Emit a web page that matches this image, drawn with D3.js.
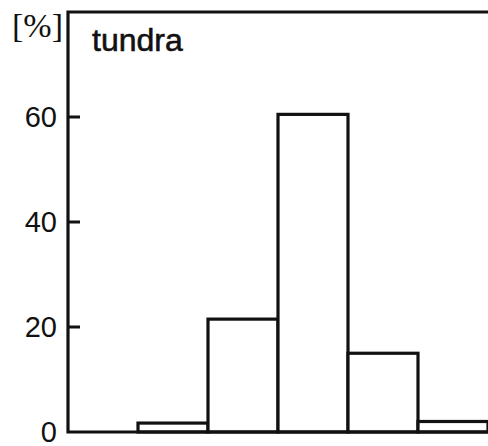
<!DOCTYPE html>
<html><head><meta charset="utf-8">
<script src="https://cdn.jsdelivr.net/npm/d3@7"></script>
<style>html,body{margin:0;padding:0;background:#fff;}svg{display:block;}</style>
</head><body>
<svg id="c" width="488" height="446"></svg>
<script>
const categories = ["b1","b2","b3","b4","b5","b6"];
const values = [0, 1.7, 21.5, 60.5, 15, 2];
const yTicks = [0, 20, 40, 60];
const title = "tundra";
const unitLabel = "[%]";

const svg = d3.select("#c");
const mLeft = 68, mRight = 488, mTop = 12, mBottom = 432;
const x = d3.scaleBand().domain(categories).range([mLeft, mRight]).padding(0);
const y = d3.scaleLinear().domain([0, 60]).range([mBottom, 117]);

const ink = "#111";

// bars
svg.append("g").selectAll("rect").data(values.map((v,i)=>({c:categories[i],v})).filter(d=>d.v>0))
  .join("rect")
  .attr("x", d => x(d.c))
  .attr("width", x.bandwidth())
  .attr("y", d => y(d.v))
  .attr("height", d => y(0) - y(d.v))
  .attr("fill", "#fff")
  .attr("stroke", ink)
  .attr("stroke-width", 3.2);

// frame: left axis, top, baseline
svg.append("path")
  .attr("d", `M${mRight},${mTop} H${mLeft} V${mBottom} H${mRight}`)
  .attr("fill", "none").attr("stroke", ink).attr("stroke-width", 3.2);

// inward ticks
svg.append("g").selectAll("rect").data(yTicks.filter(t => t > 0)).join("rect")
  .attr("x", mLeft).attr("width", 12)
  .attr("y", d => y(d) - 1.5).attr("height", 3)
  .attr("fill", ink);

// tick labels
svg.append("g").selectAll("text").data(yTicks).join("text")
  .attr("x", 57).attr("y", d => y(d))
  .attr("dy", "0.34em")
  .attr("text-anchor", "end")
  .attr("font-family", "Liberation Sans, Arial, sans-serif")
  .attr("font-size", 29)
  .attr("fill", ink)
  .text(d => d);

svg.append("text").attr("x", 92).attr("y", 51)
  .attr("font-family", "Liberation Sans, Arial, sans-serif")
  .attr("font-size", 32).attr("fill", ink)
  .attr("stroke", ink).attr("stroke-width", 0.6).text(title);

svg.append("text").attr("x", 12).attr("y", 37)
  .attr("font-family", "Liberation Serif, Times New Roman, serif")
  .attr("font-size", 34).attr("fill", ink).text(unitLabel);
</script>
</body></html>
